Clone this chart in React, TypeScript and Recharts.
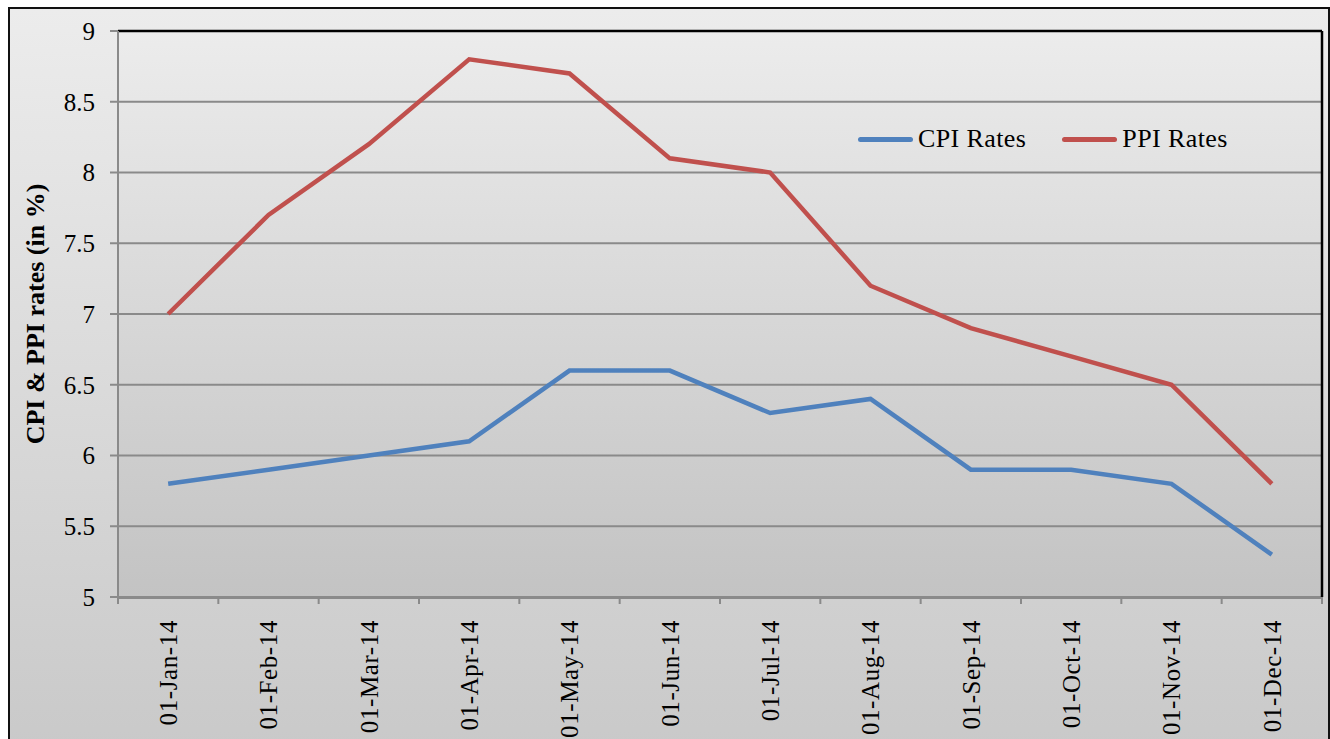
import React from 'react';
import {
  LineChart,
  Line,
  XAxis,
  YAxis,
  CartesianGrid,
  ReferenceLine,
} from 'recharts';

const months = [
  '01-Jan-14', '01-Feb-14', '01-Mar-14', '01-Apr-14', '01-May-14', '01-Jun-14',
  '01-Jul-14', '01-Aug-14', '01-Sep-14', '01-Oct-14', '01-Nov-14', '01-Dec-14',
];
const cpiRates = [5.8, 5.9, 6.0, 6.1, 6.6, 6.6, 6.3, 6.4, 5.9, 5.9, 5.8, 5.3];
const ppiRates = [7.0, 7.7, 8.2, 8.8, 8.7, 8.1, 8.0, 7.2, 6.9, 6.7, 6.5, 5.8];
const yTicks = [5, 5.5, 6, 6.5, 7, 7.5, 8, 8.5, 9];
const edgeTicks = [0, 1, 2, 3, 4, 5, 6, 7, 8, 9, 10, 11, 12];

const seriesNames = { cpi: 'CPI Rates', ppi: 'PPI Rates' };
const seriesColors = { cpi: '#4F81BD', ppi: '#C0504D' };

const data = months.map((m, i) => ({ date: m, slot: i + 0.5, cpi: cpiRates[i], ppi: ppiRates[i] }));

const FONT = '"Liberation Serif", "DejaVu Serif", serif';

const XTick = (props: any) => {
  const { x, y, payload } = props;
  return (
    <g transform={`translate(${x},${y})`}>
      <text
        transform="rotate(-90)"
        x={-14}
        y={0}
        dy="0.35em"
        textAnchor="end"
        fill="#000"
        fontSize={25}
        letterSpacing={0.6}
        fontFamily={FONT}
      >
        {payload.value}
      </text>
    </g>
  );
};

const EmptyTick = () => <g />;

const YLabel = (props: any) => {
  const vb = props.viewBox || {};
  const cx = 35;
  const cy = vb.y + vb.height / 2;
  return (
    <text
      transform={`translate(${cx},${cy}) rotate(-90)`}
      textAnchor="middle"
      dy="0.35em"
      fontWeight="bold"
      fontSize={26}
      fontFamily={FONT}
      fill="#000"
    >
      CPI &amp; PPI rates (in %)
    </text>
  );
};

const LegendBox = () => (
  <div
    style={{
      position: 'absolute',
      left: 858,
      top: 124,
      display: 'flex',
      alignItems: 'center',
      fontFamily: FONT,
      fontSize: 26,
      color: '#000',
      lineHeight: '30px',
    }}
  >
    {(['cpi', 'ppi'] as const).map((k, i) => (
      <div key={k} style={{ display: 'flex', alignItems: 'center', marginLeft: i === 0 ? 0 : 36 }}>
        <div style={{ width: 55, height: 5, borderRadius: 3, background: seriesColors[k], marginRight: 5 }} />
        <span style={{ letterSpacing: 0.4 }}>{seriesNames[k]}</span>
      </div>
    ))}
  </div>
);

export default function App() {
  return (
    <div style={{ position: 'absolute', left: 0, top: 0, width: 1330, height: 739, overflow: 'hidden', background: '#fff' }}>
      <div
        style={{
          position: 'absolute',
          left: 8,
          top: 7,
          width: 1318,
          height: 780,
          border: '2px solid #111',
          background: 'linear-gradient(to bottom, #ececec 0%, #c9c9c9 95%)',
        }}
      />
      <div style={{ position: 'absolute', left: 0, top: 0 }}>
        <LineChart
          width={1330}
          height={739}
          data={data}
          margin={{ top: 31, right: 7, left: 0, bottom: 0 }}
        >
          <defs>
            <linearGradient id="plotBg" x1="0" y1="0" x2="0" y2="1">
              <stop offset="0%" stopColor="#ececec" />
              <stop offset="100%" stopColor="#c3c3c3" />
            </linearGradient>
          </defs>
          <CartesianGrid
            xAxisId="main"
            vertical={false}
            stroke="#8a8a8a"
            strokeWidth={2}
            fill="url(#plotBg)"
            fillOpacity={1}
          />
          <XAxis
            xAxisId="edges"
            dataKey="slot"
            type="number"
            domain={[0, 12]}
            ticks={edgeTicks}
            interval={0}
            allowDataOverflow
            height={1}
            tick={<EmptyTick />}
            tickLine={{ stroke: '#8a8a8a', strokeWidth: 2 }}
            tickSize={7}
            axisLine={false}
          />
          <XAxis
            xAxisId="main"
            dataKey="date"
            scale="band"
            height={141}
            interval={0}
            tick={<XTick />}
            tickLine={false}
            axisLine={{ stroke: '#8a8a8a', strokeWidth: 2 }}
          />
          <YAxis
            width={118}
            domain={[5, 9]}
            ticks={yTicks}
            interval={0}
            tickSize={8}
            tickMargin={15}
            tick={{ fill: '#000', fontSize: 25, fontFamily: FONT }}
            tickLine={{ stroke: '#8a8a8a', strokeWidth: 2 }}
            axisLine={{ stroke: '#8a8a8a', strokeWidth: 2 }}
            label={<YLabel />}
          />
          <YAxis
            yAxisId="right"
            orientation="right"
            width={1}
            domain={[5, 9]}
            ticks={yTicks}
            tick={<EmptyTick />}
            tickLine={false}
            axisLine={{ stroke: '#000', strokeWidth: 2.5 }}
          />
          <ReferenceLine xAxisId="main" y={9} stroke="#000" strokeWidth={2.5} />
          <Line
            xAxisId="main"
            type="linear"
            dataKey="cpi"
            name={seriesNames.cpi}
            stroke={seriesColors.cpi}
            strokeWidth={4.5}
            dot={false}
            activeDot={false}
            isAnimationActive={false}
          />
          <Line
            xAxisId="main"
            type="linear"
            dataKey="ppi"
            name={seriesNames.ppi}
            stroke={seriesColors.ppi}
            strokeWidth={4.5}
            dot={false}
            activeDot={false}
            isAnimationActive={false}
          />
        </LineChart>
      </div>
      <LegendBox />
    </div>
  );
}
